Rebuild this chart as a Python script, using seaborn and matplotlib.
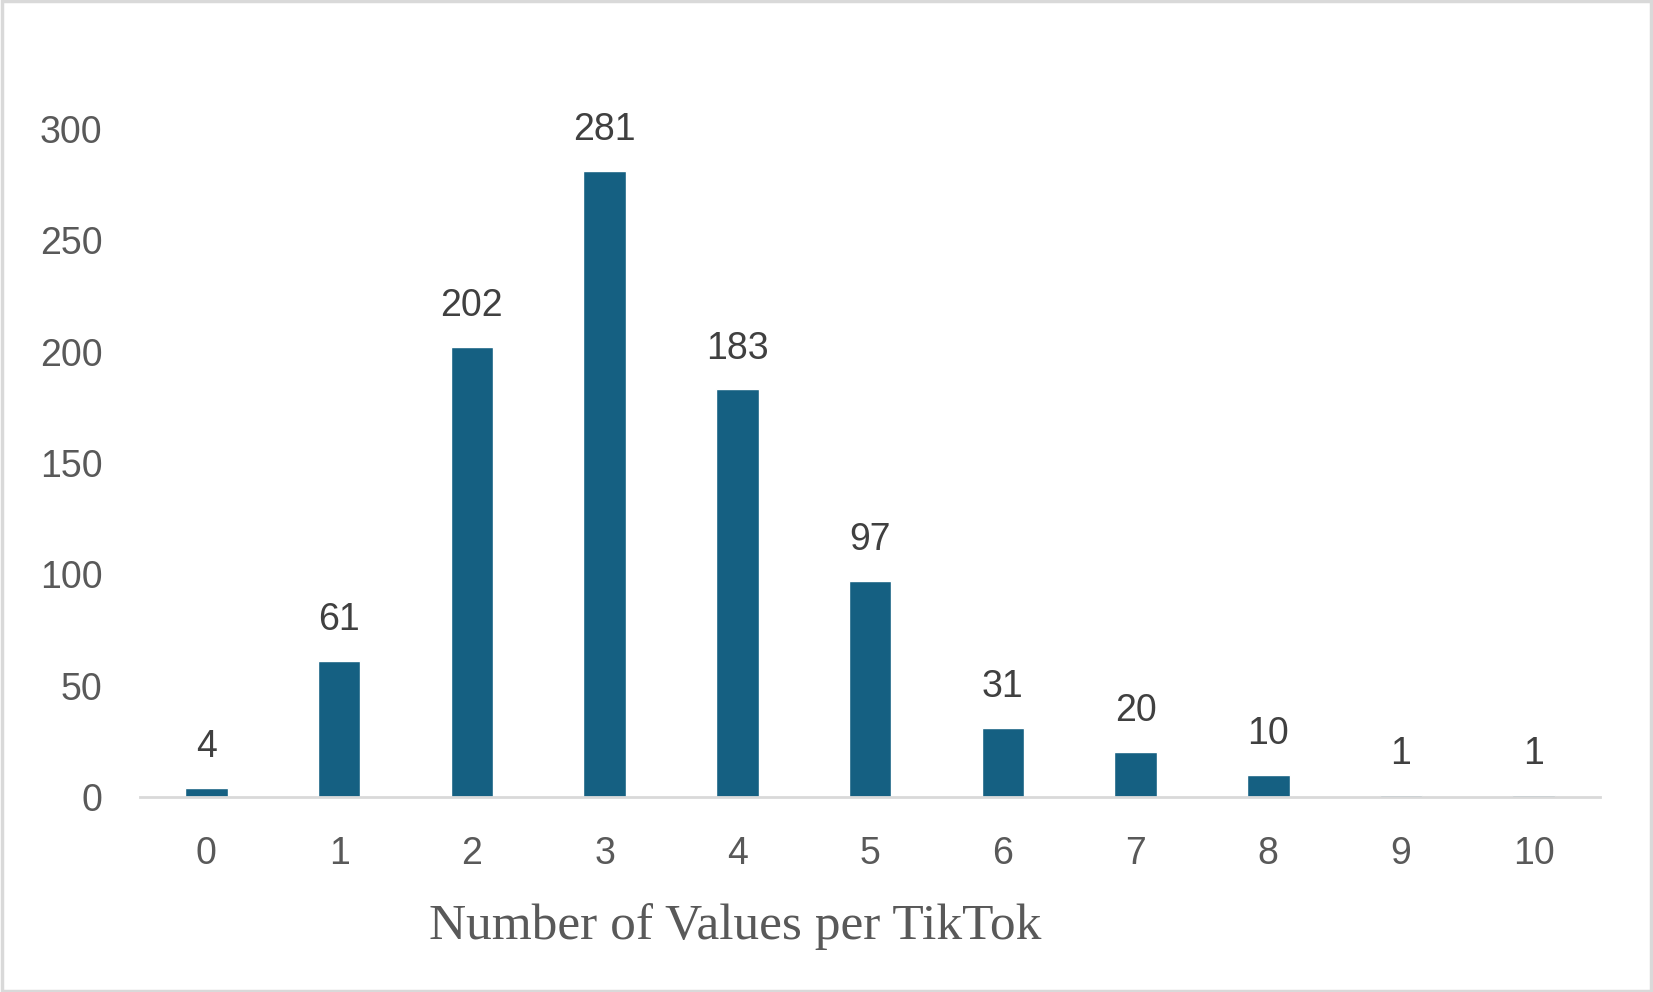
import matplotlib
matplotlib.use("Agg")
import matplotlib.pyplot as plt
import seaborn as sns
import pandas as pd
from matplotlib.patches import Rectangle

# values
categories = ["0", "1", "2", "3", "4", "5", "6", "7", "8", "9", "10"]
counts = [4, 61, 202, 281, 183, 97, 31, 20, 10, 1, 1]
y_ticks = [0, 50, 100, 150, 200, 250, 300]

df = pd.DataFrame({"n_values": categories, "count": counts})

sns.set_style("white")
plt.rcParams["font.family"] = ["Liberation Sans", "DejaVu Sans"]

fig = plt.figure(figsize=(16.53, 9.92), dpi=100)
ax = fig.add_axes([0.0847, 0.1966, 0.8833, 0.6734])

sns.barplot(data=df, x="n_values", y="count", order=categories,
            color="#156082", saturation=1, width=0.32, ax=ax)

for i, v in enumerate(counts):
    ax.annotate(str(v), (i, v), xytext=(0, 29.5), textcoords="offset points",
                ha="center", va="center", fontsize=27, color="#404040")

ax.set_xlim(-0.5, 10.5)
ax.set_ylim(0, 300)
ax.set_yticks(y_ticks)
ax.tick_params(axis="both", length=0, labelsize=27, labelcolor="#595959")
ax.tick_params(axis="x", pad=28)
ax.tick_params(axis="y", pad=27)

for side in ["top", "right", "left"]:
    ax.spines[side].set_visible(False)
ax.spines["bottom"].set_color("#D9D9D9")
ax.spines["bottom"].set_linewidth(2)
ax.set_ylabel("")
ax.set_xlabel("")

fig.text(0.4450, 0.0665, "Number of Values per TikTok", ha="center", va="center",
         fontsize=37, color="#595959", family=["Liberation Serif", "DejaVu Serif"])

# light grey frame around the chart
fig.patches.append(Rectangle((0.001, 0.0015), 0.998, 0.997, transform=fig.transFigure,
                             fill=False, edgecolor="#D9D9D9", linewidth=2.5))

fig.savefig("out.png", dpi=100)
